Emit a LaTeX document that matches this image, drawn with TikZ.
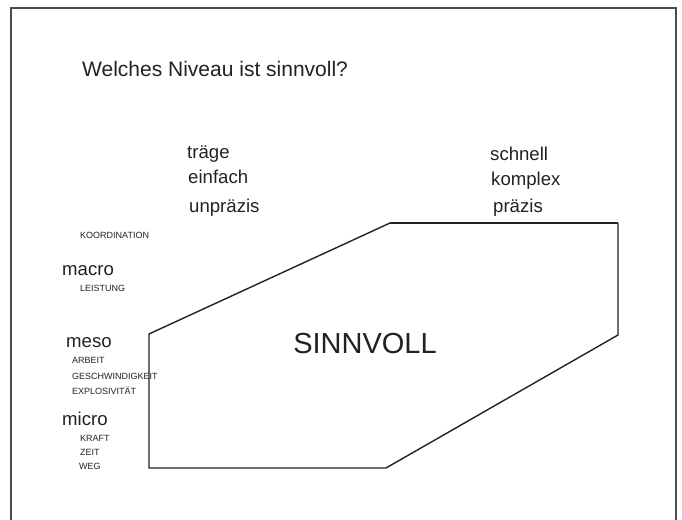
\documentclass[tikz,border=0pt]{standalone}
\usepackage{fontspec}
\setmainfont{Liberation Sans}
\definecolor{ink}{HTML}{222222}
\begin{document}
\begin{tikzpicture}[x=1pt,y=-1pt,
  lbl/.style={anchor=base west,inner sep=0pt,text=ink},
  big/.style={lbl,font=\fontsize{18.6}{20}\selectfont},
  small/.style={lbl,font=\fontsize{9}{10}\selectfont},
  edge/.style={draw=ink,line width=1.4pt,line join=miter}]
\useasboundingbox (0,0) rectangle (682,519);
\fill[white] (0,0) rectangle (682,519);
% outer frame (open at the bottom)
\draw[draw=black!70,line width=1.1pt] (11,525) -- (11,8) -- (676,8) -- (676,525);
% title
\node[lbl,font=\fontsize{21}{24}\selectfont] (title) at (82,77) {Welches Niveau ist sinnvoll?};
% top labels
\node[big] (traege) at (187,158) {träge};
\node[big] (einfach) at (188,183) {einfach};
\node[big] (unpraezis) at (189,212) {unpräzis};
\node[big] (schnell) at (490,160) {schnell};
\node[big] (komplex) at (491,185) {komplex};
\node[big] (praezis) at (493,212) {präzis};
% left labels
\node[small] (koord) at (80,238) {KOORDINATION};
\node[big] (macro) at (62,275) {macro};
\node[small] (leist) at (80,291) {LEISTUNG};
\node[big] (meso) at (66,347) {meso};
\node[small] (arbeit) at (72,363) {ARBEIT};
\node[small] (gesch) at (72,379) {GESCHWINDIGKEIT};
\node[small] (explo) at (72,394) {EXPLOSIVITÄT};
\node[big] (micro) at (62,425) {micro};
\node[small] (kraft) at (80,441) {KRAFT};
\node[small] (zeit) at (80,455) {ZEIT};
\node[small] (weg) at (79,469) {WEG};
% region
\coordinate (p1) at (149,334);
\coordinate (p2) at (390,223);
\coordinate (p3) at (618,223);
\coordinate (p4) at (618,335);
\coordinate (p5) at (386,468);
\coordinate (p6) at (149,468);
\draw[edge] (p3) -- (p4) -- (p5) -- (p6) -- (p1) -- (p2);
\draw[edge,line width=2.4pt] (p2) -- (p3);
\node[anchor=base,inner sep=0pt,text=ink,font=\fontsize{29}{32}\selectfont] (sinn) at (365,353) {SINNVOLL};
\end{tikzpicture}
\end{document}
